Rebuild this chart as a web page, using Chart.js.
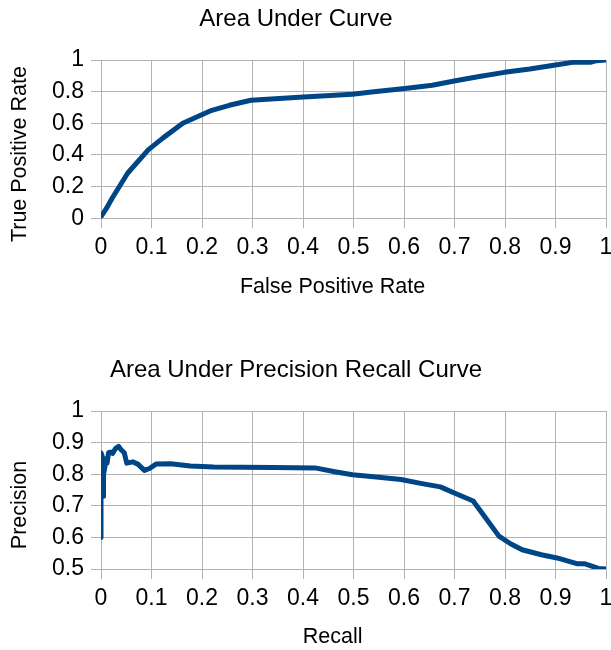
<!DOCTYPE html>
<html>
<head>
<meta charset="utf-8">
<script src="https://cdn.jsdelivr.net/npm/chart.js@4/dist/chart.umd.min.js"></script>
<style>
  body { margin: 0; background: #fff; overflow: hidden; }
  canvas { display: block; }
</style>
</head>
<body>
<canvas id="rocChart" width="612" height="325"></canvas>
<canvas id="prChart" width="612" height="325"></canvas>
<script>
// ROC curve
const rocFpr = [0, 0.011, 0.022, 0.053, 0.094, 0.123, 0.162, 0.216, 0.254, 0.297, 0.401, 0.498, 0.54, 0.602, 0.656, 0.702, 0.749, 0.799, 0.849, 0.903, 0.934, 0.969, 0.981, 1];
const rocTpr = [0.01, 0.064, 0.127, 0.286, 0.434, 0.508, 0.6, 0.678, 0.714, 0.746, 0.767, 0.784, 0.799, 0.82, 0.841, 0.869, 0.896, 0.922, 0.943, 0.97, 0.985, 0.985, 0.996, 1];

// precision / recall curve
const prRecall = [0, 0, 0.002, 0.004, 0.005, 0.008, 0.01, 0.012, 0.015, 0.019, 0.023, 0.029, 0.035, 0.039, 0.046, 0.051, 0.063, 0.073, 0.086, 0.096, 0.109, 0.138, 0.177, 0.223, 0.339, 0.424, 0.463, 0.498, 0.54, 0.594, 0.633, 0.672, 0.702, 0.737, 0.757, 0.788, 0.811, 0.834, 0.872, 0.903, 0.942, 0.957, 0.985, 1];
const prPrecision = [0.6, 0.868, 0.858, 0.73, 0.8, 0.826, 0.85, 0.835, 0.868, 0.87, 0.866, 0.882, 0.888, 0.879, 0.868, 0.835, 0.839, 0.832, 0.812, 0.818, 0.832, 0.833, 0.826, 0.823, 0.821, 0.82, 0.808, 0.798, 0.792, 0.783, 0.771, 0.76, 0.739, 0.715, 0.672, 0.604, 0.58, 0.561, 0.545, 0.535, 0.517, 0.517, 0.502, 0.5];

const xTicks = [0, 0.1, 0.2, 0.3, 0.4, 0.5, 0.6, 0.7, 0.8, 0.9, 1];
const rocYTicks = [0, 0.2, 0.4, 0.6, 0.8, 1];
const prYTicks = [0.5, 0.6, 0.7, 0.8, 0.9, 1];

Chart.defaults.font.family = '"Liberation Sans", Arial, sans-serif';
Chart.defaults.color = '#000';

const gridColor = '#b3b3b3';
const lineColor = '#004586';

function curveChart(id, o) {
  return new Chart(document.getElementById(id), {
    type: 'scatter',
    data: {
      datasets: [{
        data: o.xs.map((x, i) => ({ x: x, y: o.ys[i] })),
        showLine: true,
        borderColor: lineColor,
        borderWidth: 5,
        borderJoinStyle: 'round',
        borderCapStyle: 'round',
        pointRadius: 0,
        tension: 0
      }]
    },
    options: {
      responsive: false,
      animation: false,
      devicePixelRatio: 1,
      layout: { padding: 0 },
      plugins: {
        legend: { display: false },
        tooltip: { enabled: false },
        title: {
          display: true,
          // trailing spaces nudge the centred title a bit to the left, like the original
          text: o.title + '   ',
          font: { size: 24, weight: 'normal' },
          color: '#000',
          padding: { top: o.titleTop, bottom: 26.6 }
        }
      },
      scales: {
        x: {
          type: 'linear',
          min: 0,
          max: 1,
          afterBuildTicks: s => { s.ticks = xTicks.map(v => ({ value: v })); },
          afterFit: s => { s.height = o.xHeight; s.paddingRight = 6; },
          grid: { color: gridColor, tickLength: 10 },
          border: { display: false },
          ticks: { font: { size: 23 }, padding: 6, maxRotation: 0, callback: v => String(v) },
          title: {
            display: true,
            text: o.xTitle + '       ',
            font: { size: 21.5 },
            padding: { top: 0, bottom: o.xTitleBottom }
          }
        },
        y: {
          type: 'linear',
          min: o.yTicks[0],
          max: 1,
          afterBuildTicks: s => { s.ticks = o.yTicks.map(v => ({ value: v })); },
          afterFit: s => { s.width = 101; },
          grid: { color: gridColor, tickLength: 10 },
          border: { display: false },
          ticks: { font: { size: 23 }, padding: 7, callback: v => String(v) },
          title: {
            display: true,
            // the original sits a little below the middle of the plot
            text: o.yTitle + '     ',
            font: { size: 21.5 },
            padding: { top: 7, bottom: 0 }
          }
        }
      }
    }
  });
}

curveChart('rocChart', {
  xs: rocFpr, ys: rocTpr, yTicks: rocYTicks,
  title: 'Area Under Curve', titleTop: 4.6,
  xTitle: 'False Positive Rate', yTitle: 'True Positive Rate',
  xHeight: 106.7, xTitleBottom: 25.1
});

curveChart('prChart', {
  xs: prRecall, ys: prPrecision, yTicks: prYTicks,
  title: 'Area Under Precision Recall Curve', titleTop: 30.6,
  xTitle: 'Recall', yTitle: 'Precision',
  xHeight: 81, xTitleBottom: 0.4
});
</script>
</body>
</html>
